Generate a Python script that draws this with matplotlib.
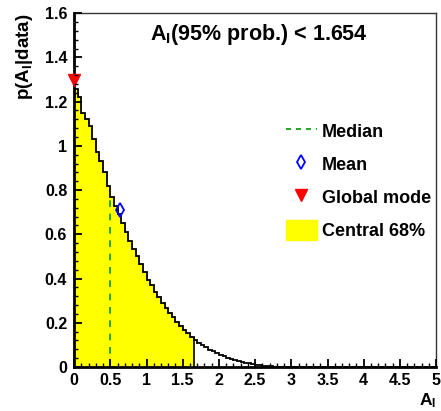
import numpy as np
import matplotlib
matplotlib.use("Agg")
import matplotlib.pyplot as plt
from matplotlib.lines import Line2D
from matplotlib.patches import Patch
from matplotlib.ticker import MultipleLocator, FuncFormatter

plt.rcParams['font.family'] = ['Liberation Sans', 'DejaVu Sans']
plt.rcParams['font.weight'] = 'bold'
plt.rcParams['mathtext.fontset'] = 'custom'
plt.rcParams['mathtext.rm'] = 'Liberation Sans:bold'
plt.rcParams['mathtext.bf'] = 'Liberation Sans:bold'
plt.rcParams['mathtext.it'] = 'Liberation Sans:bold'

# ---- data ----
bin_width = 0.05
x_min, x_max = 0.0, 5.0
posterior = [
    1.256, 1.22, 1.15, 1.12, 1.09, 1.03, 0.97, 0.93, 0.88, 0.82,
    0.77, 0.73, 0.69, 0.65, 0.61, 0.57, 0.535, 0.50, 0.465, 0.43,
    0.395, 0.37, 0.34, 0.315, 0.29, 0.265, 0.245, 0.225, 0.205, 0.185,
    0.168, 0.152, 0.137, 0.123, 0.11, 0.099, 0.089, 0.079, 0.071, 0.063,
    0.056, 0.049, 0.043, 0.037, 0.032, 0.027, 0.023, 0.019, 0.016, 0.013,
    0.010, 0.008, 0.006, 0.004, 0.003, 0.002, 0.001, 0.001,
] + [0.0] * 42
median_x = 0.5
mean_x, mean_y = 0.635, 0.71
mode_x, mode_y = 0.0, 1.30
central_hi = 1.65
limit95 = 1.654

edges = np.linspace(x_min, x_max, len(posterior) + 1)
values = np.array(posterior)

fig = plt.figure(figsize=(4.41, 4.11), dpi=100)
ax = fig.add_axes([0.168, 0.107, 0.821, 0.861])

n_fill = int(round(central_hi / bin_width))
ax.hist(edges[:n_fill], bins=edges[:n_fill + 1], weights=values[:n_fill],
        histtype='stepfilled', color='#ffff00', zorder=0.5)
ax.vlines(edges[n_fill], 0, values[n_fill - 1], color='black', lw=1.2, zorder=3)
ax.hist(edges[:-1], bins=edges, weights=values, histtype='step',
        color='black', lw=1.3, zorder=3)

med_idx = int(median_x / bin_width)
ax.vlines(median_x, 0, values[med_idx], color='#009900', lw=1.2,
          linestyles=(0, (4, 4)), zorder=4)
ax.plot([mean_x], [mean_y], marker='d', ms=7.5, mfc='none', mec='#0000ff',
        mew=1.3, ls='none', zorder=5)
ax.plot([mode_x], [mode_y], marker='v', ms=8, color='#ff0000', ls='none',
        zorder=5, clip_on=False)

ax.set_xlim(x_min, x_max)
ax.set_ylim(0, 1.6)
ax.xaxis.set_major_locator(MultipleLocator(0.5))
ax.xaxis.set_minor_locator(MultipleLocator(0.1))
ax.yaxis.set_major_locator(MultipleLocator(0.2))
ax.yaxis.set_minor_locator(MultipleLocator(0.04))
ax.xaxis.set_major_formatter(FuncFormatter(lambda v, p: f"{v:g}"))
ax.yaxis.set_major_formatter(FuncFormatter(lambda v, p: f"{v:g}"))
ax.tick_params(axis='both', which='major', direction='in', length=6, width=1.3,
               color='black', labelsize=11.5, top=False, right=False)
ax.tick_params(axis='both', which='minor', direction='in', length=3, width=1.0,
               color='black', top=False, right=False)
ax.tick_params(axis='x', which='major', pad=4)
ax.tick_params(axis='y', which='major', pad=5)

for s in ('left', 'bottom'):
    ax.spines[s].set_linewidth(2)
for s in ('top', 'right'):
    ax.spines[s].set_linewidth(1.0)
    ax.spines[s].set_color('#333333')

ax.text(0.51, 0.975, r'A$_{\mathrm{I}}$(95% prob.) < 1.654', transform=ax.transAxes,
        ha='center', va='top', fontsize=15.5, fontweight='bold')
ax.set_ylabel(r'p(A$_{\mathrm{I}}$|data)', fontsize=13.5, fontweight='bold', loc='top',
              labelpad=7)
ax.set_xlabel(r'A$_{\mathrm{I}}$', fontsize=12.5, fontweight='bold', loc='right',
              labelpad=3)

handles = [
    Line2D([], [], color='#009900', lw=1.2, ls=(0, (3, 3))),
    Line2D([], [], marker='d', ms=7.5, mfc='none', mec='#0000ff', mew=1.3, ls='none'),
    Line2D([], [], marker='v', ms=8, color='#ff0000', ls='none'),
    Patch(facecolor='#ffff00', edgecolor='#ffff00'),
]
labels = ['Median', 'Mean', 'Global mode', 'Central 68%']
ax.legend(handles, labels, loc='upper left', bbox_to_anchor=(0.56, 0.72),
          frameon=False, fontsize=13, handlelength=1.7, handleheight=1.3,
          labelspacing=0.72, handletextpad=0.3, borderpad=0)

ax.xaxis.set_zorder(10)
ax.yaxis.set_zorder(10)

fig.savefig('out.png', dpi=100)
